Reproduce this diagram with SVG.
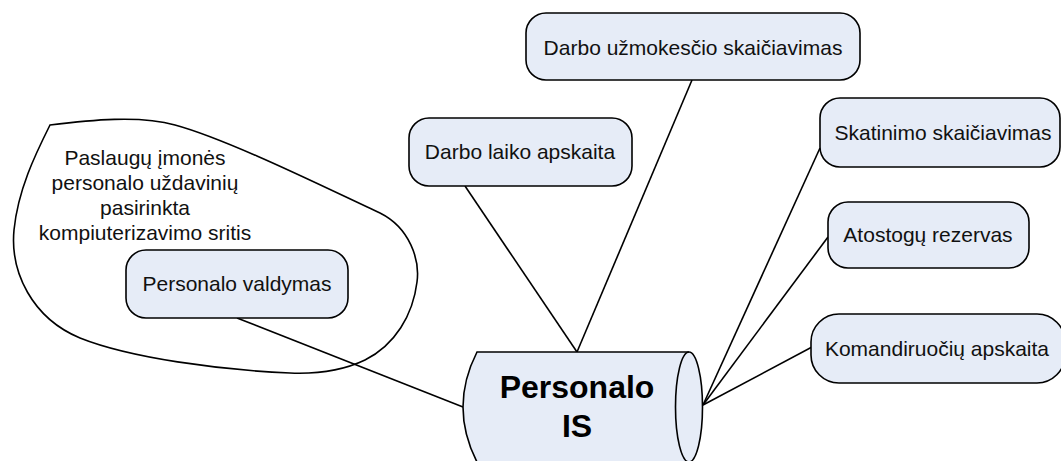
<svg xmlns="http://www.w3.org/2000/svg" width="1061" height="461" viewBox="0 0 1061 461">
  <style>
    .box { fill: #E6ECF7; stroke: #000; stroke-width: 1.6; }
    .line { fill: none; stroke: #000; stroke-width: 1.6; }
    .lbl { font-family: "Liberation Sans", Arial, sans-serif; font-size: 21px; fill: #111; text-anchor: middle; }
    .big { font-family: "Liberation Sans", Arial, sans-serif; font-size: 32px; font-weight: bold; fill: #000; text-anchor: middle; }
  </style>
  <rect width="1061" height="461" fill="#fff"/>

  <!-- selected area outline -->
  <g id="area">
    <path class="line" d="M50,125 C90,120 140,115 175,125 C230,140 330,190 380,213 C410,228 420,260 417,282 C413,315 395,345 365,360 C340,372 315,374 290,373 C220,370 130,358 80,338 C32,318 10,272 14,230 C18,190 35,155 50,125 Z"/>
    <text class="lbl" x="145" y="165">Paslaugų įmonės</text>
    <text class="lbl" x="145" y="190">personalo uždavinių</text>
    <text class="lbl" x="145" y="215">pasirinkta</text>
    <text class="lbl" x="145" y="240">kompiuterizavimo sritis</text>
  </g>

  <!-- connectors -->
  <g id="connectors">
    <line class="line" x1="692" y1="80" x2="577" y2="352"/>
    <line class="line" x1="465" y1="186" x2="577" y2="352"/>
    <line class="line" x1="820" y1="148" x2="703" y2="405"/>
    <line class="line" x1="828" y1="237" x2="703" y2="405"/>
    <line class="line" x1="812" y1="347" x2="703" y2="405"/>
    <line class="line" x1="237" y1="318" x2="463" y2="407"/>
  </g>

  <g id="node-pis">
    <path class="box" d="M477,352 H689 A13.5,55 0 0 1 689,462 H477 Q449,407 477,352 Z"/>
    <path class="line" d="M689,352 A13.5,55 0 0 0 689,462"/>
    <text class="big" x="577" y="398">Personalo</text>
    <text class="big" x="577" y="437">IS</text>
  </g>

  <g id="node-uzmokestis">
    <rect class="box" x="526" y="13" width="334" height="67" rx="20"/>
    <text class="lbl" x="693" y="55">Darbo užmokesčio skaičiavimas</text>
  </g>

  <g id="node-laikas">
    <rect class="box" x="409" y="118" width="223" height="68" rx="20"/>
    <text class="lbl" x="520" y="159">Darbo laiko apskaita</text>
  </g>

  <g id="node-valdymas">
    <rect class="box" x="126" y="250" width="222" height="68" rx="20"/>
    <text class="lbl" x="237" y="291">Personalo valdymas</text>
  </g>

  <g id="node-skatinimas">
    <rect class="box" x="820" y="98" width="240" height="69" rx="20"/>
    <text class="lbl" x="943" y="140">Skatinimo skaičiavimas</text>
  </g>

  <g id="node-atostogos">
    <rect class="box" x="828" y="202" width="201" height="66" rx="20"/>
    <text class="lbl" x="928" y="242">Atostogų rezervas</text>
  </g>

  <g id="node-komandiruotes">
    <rect class="box" x="811" y="314" width="254" height="69" rx="28"/>
    <text class="lbl" x="937" y="356">Komandiruočių apskaita</text>
  </g>
</svg>
